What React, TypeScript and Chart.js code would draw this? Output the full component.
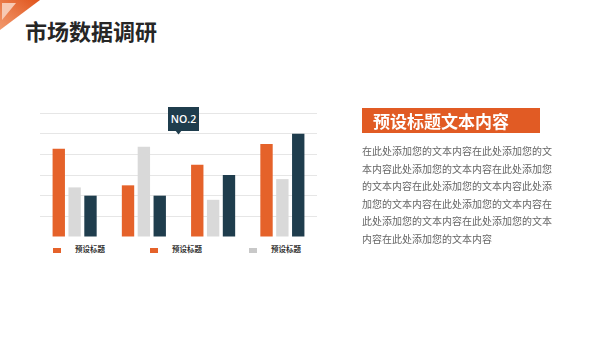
import React, { useEffect, useRef } from "react";
import { Chart, registerables } from "chart.js";

Chart.register(...registerables);

const categories = ["A", "B", "C", "D"];
const seriesOrange = [4.27, 2.5, 3.5, 4.5];
const seriesGray = [2.4, 4.37, 1.8, 2.8];
const seriesDark = [2.0, 2.0, 3.0, 5.0];
const legendLabels = ["预设标题", "预设标题", "预设标题"];
const legendColors = ["#E5622A", "#E5622A", "#C8C8C8"];
const yTicks = [0, 1, 2, 3, 4, 5, 6];
const paragraphLines = [
  "在此处添加您的文本内容在此处添加您的文",
  "本内容此处添加您的文本内容在此处添加您",
  "的文本内容在此处添加您的文本内容此处添",
  "加您的文本内容在此处添加您的文本内容在",
  "此处添加您的文本内容在此处添加您的文本",
  "内容在此处添加您的文本内容",
];

const ORANGE = "#E5622A";
const GRAY = "#D9D9D9";
const DARK = "#1F3D4D";
const CJK = '"Noto Sans CJK SC", "Noto Sans", sans-serif';

export default function App() {
  const canvasRef = useRef<HTMLCanvasElement | null>(null);

  useEffect(() => {
    if (!canvasRef.current) return;
    const chart = new Chart(canvasRef.current, {
      type: "bar",
      data: {
        labels: categories,
        datasets: [
          { data: seriesOrange, backgroundColor: ORANGE },
          { data: seriesGray, backgroundColor: GRAY },
          { data: seriesDark, backgroundColor: DARK },
        ],
      },
      options: {
        animation: false,
        responsive: true,
        maintainAspectRatio: false,
        layout: { padding: 0 },
        datasets: {
          bar: { categoryPercentage: 0.687, barPercentage: 0.78 },
        },
        plugins: {
          legend: { display: false },
          tooltip: { enabled: false },
        },
        scales: {
          x: {
            display: true,
            grid: { display: false, drawTicks: false },
            border: { display: false },
            ticks: { display: false },
          },
          y: {
            min: yTicks[0],
            max: yTicks[yTicks.length - 1],
            afterBuildTicks: (scale: any) => {
              scale.ticks = yTicks.map((v) => ({ value: v }));
            },
            grid: { color: "#E6E6E6", drawTicks: false, lineWidth: 1 },
            border: { display: false },
            ticks: { display: false },
          },
        },
      },
    });
    return () => chart.destroy();
  }, []);

  return (
    <div
      style={{
        position: "fixed",
        left: 0,
        top: 0,
        width: 600,
        height: 338,
        background: "#FFFFFF",
        overflow: "hidden",
        fontFamily: CJK,
      }}
    >
      <svg
        width={42}
        height={34}
        style={{ position: "absolute", left: 0, top: 0 }}
      >
        <defs>
          <linearGradient id="cg" x1="1" y1="0" x2="0" y2="1">
            <stop offset="0" stopColor="#E0541C" />
            <stop offset="1" stopColor="#F29A6E" />
          </linearGradient>
        </defs>
        <polygon points="0,0 40,0 0,30" fill="url(#cg)" />
        <polygon points="2,3 16,3 2,20" fill="#F7C9B3" />
      </svg>

      <div
        style={{
          position: "absolute",
          left: 25,
          top: 16,
          fontSize: 22,
          lineHeight: "28px",
          fontWeight: 700,
          color: "#262626",
          whiteSpace: "nowrap",
        }}
      >
        市场数据调研
      </div>

      <div
        style={{
          position: "absolute",
          left: 40,
          top: 113,
          width: 277,
          height: 124,
        }}
      >
        <canvas ref={canvasRef} />
      </div>

      {legendLabels.map((t, i) => {
        const lefts = [53, 150, 249];
        return (
          <div key={i}>
            <div
              style={{
                position: "absolute",
                left: lefts[i],
                top: 248,
                width: 8,
                height: 5,
                background: legendColors[i],
              }}
            />
            <div
              style={{
                position: "absolute",
                left: lefts[i] + 22,
                top: 244,
                fontSize: 7.5,
                lineHeight: "10px",
                fontWeight: 700,
                color: "#333333",
                whiteSpace: "nowrap",
              }}
            >
              {t}
            </div>
          </div>
        );
      })}

      <div
        style={{
          position: "absolute",
          left: 168,
          top: 107,
          width: 31,
          height: 24,
          background: DARK,
          color: "#FFFFFF",
          fontFamily: '"Open Sans", sans-serif',
          fontWeight: 600,
          fontSize: 10.5,
          lineHeight: "24px",
          textAlign: "center",
        }}
      >
        NO.2
      </div>
      <svg
        width={10}
        height={6}
        style={{ position: "absolute", left: 174, top: 130 }}
      >
        <polygon points="1,0 8,0 4.5,4.5" fill={DARK} />
      </svg>

      <div
        style={{
          position: "absolute",
          left: 362,
          top: 108,
          width: 178,
          height: 25,
          background: "#E15B24",
        }}
      />
      <div
        style={{
          position: "absolute",
          left: 373,
          top: 108,
          height: 25,
          fontSize: 17,
          lineHeight: "25px",
          fontWeight: 700,
          color: "#FFFFFF",
          whiteSpace: "nowrap",
        }}
      >
        预设标题文本内容
      </div>

      <div
        style={{
          position: "absolute",
          left: 362,
          top: 142,
          fontSize: 10,
          lineHeight: "17.5px",
          color: "#666666",
          whiteSpace: "nowrap",
        }}
      >
        {paragraphLines.map((l, i) => (
          <div key={i}>{l}</div>
        ))}
      </div>
    </div>
  );
}
